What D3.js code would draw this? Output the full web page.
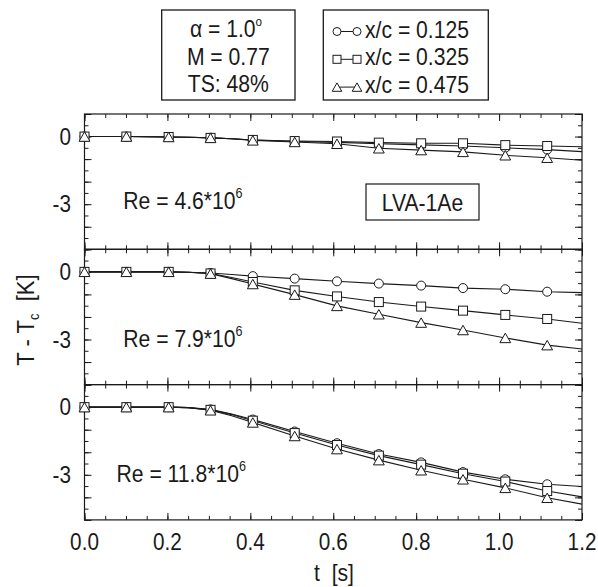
<!DOCTYPE html>
<html>
<head>
<meta charset="utf-8">
<script src="https://cdn.jsdelivr.net/npm/d3@7"></script>
<style>
  html, body { margin: 0; padding: 0; background: #fff; }
  svg { display: block; }
</style>
</head>
<body>
<svg id="chart" width="598" height="587"></svg>
<script>
// Sample times (s) of the temperature traces
const timeSamples = [0, 0.101, 0.203, 0.25, 0.304, 0.355, 0.406, 0.507, 0.609, 0.71, 0.812, 0.913, 1.015, 1.116, 1.2];
// Times at which symbols are placed on the traces
const markerTimes = [0, 0.101, 0.203, 0.304, 0.406, 0.507, 0.609, 0.71, 0.812, 0.913, 1.015, 1.116];

// T - Tc [K] at x/c = 0.125, 0.325, 0.475 for each Reynolds number
const re46Circle   = [0, 0, -0.02, -0.03, -0.05, -0.1, -0.15, -0.22, -0.26, -0.32, -0.37, -0.42, -0.5, -0.58, -0.67];
const re46Square   = [0, 0, -0.02, -0.03, -0.06, -0.1, -0.15, -0.2, -0.22, -0.27, -0.3, -0.3, -0.38, -0.42, -0.45];
const re46Triangle = [0, 0, -0.02, -0.03, -0.06, -0.1, -0.17, -0.24, -0.32, -0.52, -0.6, -0.68, -0.83, -0.94, -1.05];

const re79Circle   = [0, 0, 0, -0.02, -0.05, -0.12, -0.19, -0.3, -0.42, -0.52, -0.61, -0.72, -0.77, -0.88, -0.92];
const re79Square   = [0, 0, 0, -0.02, -0.07, -0.25, -0.45, -0.82, -1.09, -1.34, -1.54, -1.72, -1.91, -2.09, -2.28];
const re79Triangle = [0, 0, 0, -0.02, -0.08, -0.3, -0.54, -1.01, -1.51, -1.88, -2.25, -2.58, -2.93, -3.25, -3.42];

const re118Circle   = [0, 0, 0, -0.02, -0.1, -0.3, -0.55, -1.08, -1.6, -2.08, -2.45, -2.88, -3.2, -3.42, -3.52];
const re118Square   = [0, 0, 0, -0.02, -0.12, -0.33, -0.6, -1.15, -1.68, -2.15, -2.55, -2.95, -3.3, -3.72, -3.98];
const re118Triangle = [0, 0, 0, -0.02, -0.14, -0.38, -0.68, -1.28, -1.86, -2.35, -2.8, -3.2, -3.58, -4.02, -4.3];

const reynoldsLabels = ["4.6", "7.9", "11.8"];
const panelSeries = [
  [re46Circle, re46Square, re46Triangle],
  [re79Circle, re79Square, re79Triangle],
  [re118Circle, re118Square, re118Triangle]
];
const seriesShapes = ["circle", "square", "triangle"];
const legendLabels = ["x/c = 0.125", "x/c = 0.325", "x/c = 0.475"];
const conditionLines = ["M = 0.77", "TS: 48%"];

const xTickLabels = [0, 0.2, 0.4, 0.6, 0.8, 1.0, 1.2];
const yTickLabels = [0, -3];
const yDomain = [-5, 1];
const xDomain = [0, 1.2];

// ---------------------------------------------------------------------------
const svg = d3.select("#chart");
const FONT = "'Liberation Sans', Arial, Helvetica, sans-serif";
const INK = "#1a1a1a";

const plotLeft = 84.5, plotRight = 582;
const plotTop = 114, panelH = 135.3;

const x = d3.scaleLinear().domain(xDomain).range([plotLeft, plotRight]);

// narrow-set text helper
function label(parent, px, py, anchor, size) {
  return parent.append("g")
    .attr("transform", `translate(${px},${py}) scale(0.9,1)`)
    .append("text")
    .attr("text-anchor", anchor)
    .attr("font-family", FONT)
    .attr("font-size", size)
    .attr("fill", INK);
}

function drawMarker(g, shape, cx, cy, s) {
  if (shape === "circle") {
    g.append("circle").attr("cx", cx).attr("cy", cy).attr("r", s)
      .attr("fill", "#fff").attr("stroke", INK).attr("stroke-width", 1);
  } else if (shape === "square") {
    g.append("rect").attr("x", cx - s).attr("y", cy - s)
      .attr("width", 2 * s).attr("height", 2 * s)
      .attr("fill", "#fff").attr("stroke", INK).attr("stroke-width", 1);
  } else {
    const w = s * 1.2, h = s * 1.05;
    g.append("path")
      .attr("d", `M${cx},${cy - h}L${cx + w},${cy + h}L${cx - w},${cy + h}Z`)
      .attr("fill", "#fff").attr("stroke", INK).attr("stroke-width", 1);
  }
}

const minorX = d3.range(0, 1.2001, 0.05).map(v => +v.toFixed(2));
const majorX = xTickLabels;
const minorY = d3.range(-5, 1.001, 0.5);
const majorY = d3.range(-5, 1.001, 1);

panelSeries.forEach((series, pi) => {
  const top = plotTop + pi * panelH;
  const bottom = top + panelH;
  const y = d3.scaleLinear().domain(yDomain).range([bottom, top]);
  const g = svg.append("g");

  // inward ticks on all four sides
  const axes = [
    [d3.axisBottom, `translate(0,${bottom})`, x, minorX, 4],
    [d3.axisBottom, `translate(0,${bottom})`, x, majorX, 7],
    [d3.axisTop, `translate(0,${top})`, x, minorX, 4],
    [d3.axisTop, `translate(0,${top})`, x, majorX, 7],
    [d3.axisLeft, `translate(${plotLeft},0)`, y, minorY, 4],
    [d3.axisLeft, `translate(${plotLeft},0)`, y, majorY, 7],
    [d3.axisRight, `translate(${plotRight},0)`, y, minorY, 4],
    [d3.axisRight, `translate(${plotRight},0)`, y, majorY, 7]
  ];
  axes.forEach(([fn, tr, sc, vals, len]) => {
    const a = g.append("g").attr("transform", tr)
      .call(fn(sc).tickValues(vals).tickSize(-len).tickFormat(""));
    a.select(".domain").remove();
    a.selectAll("line").attr("stroke", INK).attr("stroke-width", 1);
  });

  // frame
  g.append("rect").attr("x", plotLeft).attr("y", top)
    .attr("width", plotRight - plotLeft).attr("height", panelH)
    .attr("fill", "none").attr("stroke", INK).attr("stroke-width", 1.2);

  // y tick labels
  yTickLabels.forEach(v => {
    label(g, 71, y(v) + 8, "end", 23).text(v);
  });

  // traces
  const line = d3.line().x(d => x(d[0])).y(d => y(d[1]));
  series.forEach(vals => {
    const pts = timeSamples.map((t, i) => [t, vals[i]]);
    g.append("path").attr("d", line(pts))
      .attr("fill", "none").attr("stroke", INK).attr("stroke-width", 1.1);
  });
  series.forEach((vals, si) => {
    timeSamples.forEach((t, i) => {
      if (markerTimes.includes(t)) drawMarker(g, seriesShapes[si], x(t), y(vals[i]), 4.5);
    });
  });

  // Reynolds number annotation
  const reX = pi === 2 ? 116.5 : 123.3;
  const reY = [209, 347, 482][pi];
  const t = label(g, reX, reY, "start", 23.5);
  t.append("tspan").text(`Re = ${reynoldsLabels[pi]}*10`);
  t.append("tspan").attr("dy", -11).attr("font-size", 14).text("6");
});

// model designation box in the first panel
{
  const g = svg.append("g");
  g.append("rect").attr("x", 366).attr("y", 184).attr("width", 113).attr("height", 36)
    .attr("fill", "#fff").attr("stroke", INK).attr("stroke-width", 1.2);
  label(g, 422.5, 210.5, "middle", 23.5).text("LVA-1Ae");
}

// x tick labels and axis titles
xTickLabels.forEach(v => {
  label(svg, x(v), 549.5, "middle", 23).text(d3.format(".1f")(v));
});
label(svg, 334, 581, "middle", 23.5).style("white-space", "pre").text("t  [s]");

{
  const g = svg.append("g").attr("transform", "translate(34,320) rotate(-90)");
  const t = g.append("g").attr("transform", "scale(0.92,1)").append("text")
    .attr("text-anchor", "middle").attr("font-family", FONT).attr("font-size", 24)
    .attr("fill", INK).style("white-space", "pre");
  t.append("tspan").text("T - T");
  t.append("tspan").attr("dy", 5).attr("font-size", 14).text("c");
  t.append("tspan").attr("dy", -5).text("  [K]");
}

// flow conditions box
{
  const g = svg.append("g");
  g.append("rect").attr("x", 161.7).attr("y", 10).attr("width", 133.3).attr("height", 90)
    .attr("fill", "#fff").attr("stroke", INK).attr("stroke-width", 1.3);
  const a = label(g, 226, 37, "middle", 23.5);
  a.append("tspan").text("\u03B1 = 1.0");
  a.append("tspan").attr("dy", -11).attr("font-size", 13).text("o");
  conditionLines.forEach((s, i) => label(g, 228.3, 65 + i * 27, "middle", 23.5).text(s));
}

// legend box
{
  const g = svg.append("g");
  g.append("rect").attr("x", 323.3).attr("y", 10).attr("width", 165).attr("height", 90)
    .attr("fill", "#fff").attr("stroke", INK).attr("stroke-width", 1.3);
  legendLabels.forEach((s, i) => {
    const cy = 31.5 + i * 27.8;
    g.append("line").attr("x1", 337).attr("x2", 357).attr("y1", cy).attr("y2", cy)
      .attr("stroke", INK).attr("stroke-width", 1);
    drawMarker(g, seriesShapes[i], 337, cy, 4);
    drawMarker(g, seriesShapes[i], 357, cy, 4);
    label(g, 365, cy + 6, "start", 23.5).text(s);
  });
}
</script>
</body>
</html>
